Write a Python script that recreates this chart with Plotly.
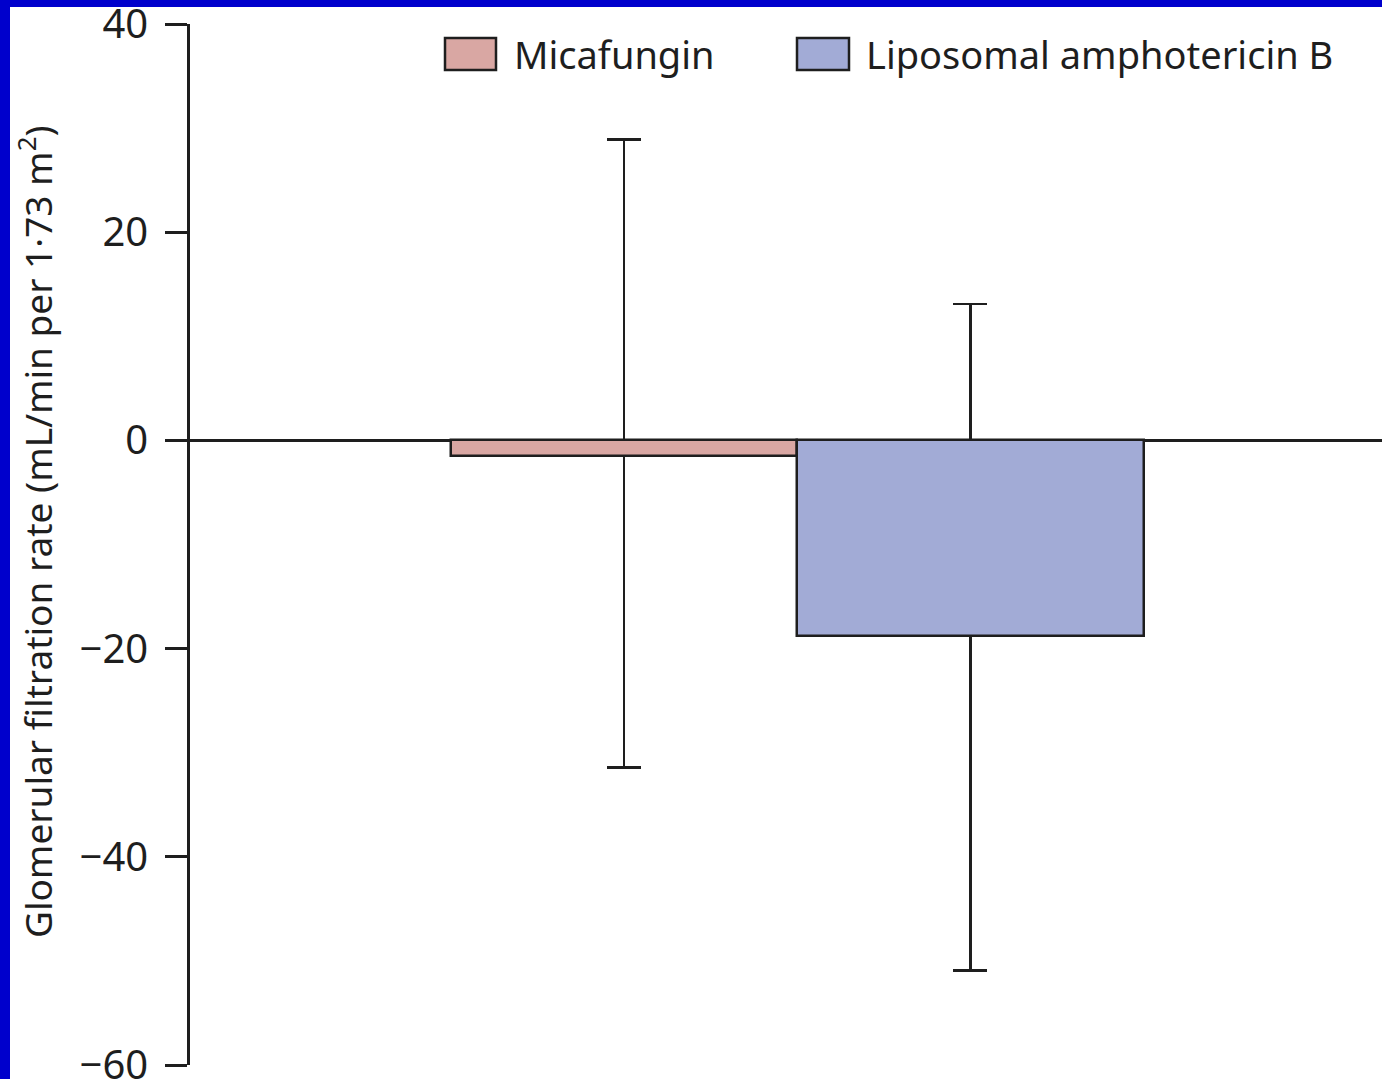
import plotly.graph_objects as go

groups = ["Micafungin", "Liposomal amphotericin B"]
means = [-1.5, -18.8]
err_plus = [30.4, 31.9]
err_minus = [29.9, 32.1]
colors = ["#d9a7a3", "#a2abd6"]
yticks = [-60, -40, -20, 0, 20, 40]

W, H = 1382, 1079
ml, mr, mt, mb = 190, 0, 24, 14
pw, ph = W - ml - mr, H - mt - mb

def px_x(x):
    return (x - ml) / pw

def px_y(y):
    return (H - mb - y) / ph

FONT = "Noto Sans"
INK = "#1e1e1e"

fig = go.Figure()
# error bars first (drawn behind the bars)
for i, g in enumerate(groups):
    fig.add_trace(go.Bar(
        x=[i], y=[means[i]], width=1, name=g + " error",
        marker=dict(color="rgba(0,0,0,0)", line=dict(width=0)),
        error_y=dict(type="data", symmetric=False, array=[err_plus[i]],
                     arrayminus=[err_minus[i]], color=INK, thickness=2.5, width=17),
        showlegend=False, hoverinfo="skip",
    ))
for i, g in enumerate(groups):
    fig.add_trace(go.Bar(
        x=[i], y=[means[i]], width=1, name=g,
        marker=dict(color=colors[i], line=dict(color=INK, width=2.5)),
        showlegend=False,
    ))

shapes = []
annotations = []
# custom legend
leg = [(445, 496, 512), (797, 849, 864)]
for i, g in enumerate(groups):
    x0, x1, tx = leg[i]
    shapes.append(dict(type="rect", xref="paper", yref="paper",
                       x0=px_x(x0), x1=px_x(x1), y0=px_y(70), y1=px_y(38),
                       fillcolor=colors[i], line=dict(color=INK, width=2.5)))
    annotations.append(dict(text=g, xref="paper", yref="paper", x=px_x(tx), y=px_y(54),
                            xanchor="left", yanchor="middle", showarrow=False,
                            font=dict(family=FONT, size=38, color=INK)))
# y axis title
annotations.append(dict(text="Glomerular filtration rate (mL/min per 1·73 m<sup>2</sup>)",
                        xref="paper", yref="paper", x=px_x(35), y=px_y(532),
                        xanchor="center", yanchor="middle", textangle=-90, showarrow=False,
                        font=dict(family=FONT, size=37, color=INK)))
# blue frame
shapes.append(dict(type="rect", xref="paper", yref="paper", x0=px_x(0), x1=px_x(10),
                   y0=px_y(H), y1=px_y(0), fillcolor="#0000cc", line=dict(width=0), layer="above"))
shapes.append(dict(type="rect", xref="paper", yref="paper", x0=px_x(0), x1=px_x(W),
                   y0=px_y(7), y1=px_y(0), fillcolor="#0000cc", line=dict(width=0), layer="above"))

fig.update_layout(
    width=W, height=H,
    margin=dict(l=ml, r=mr, t=mt, b=mb, pad=0, autoexpand=False),
    paper_bgcolor="white", plot_bgcolor="white",
    shapes=shapes, annotations=annotations,
    bargap=0, barmode="overlay",
    xaxis=dict(range=[-1.2518, 2.1883], visible=False, fixedrange=True, automargin=False),
    yaxis=dict(range=[-60, 40], tickvals=yticks, ticks="outside", ticklen=22, tickwidth=2.5,
               tickcolor=INK, showline=True, linecolor=INK, linewidth=2.5, automargin=False,
               showgrid=False, zeroline=True, zerolinecolor=INK, zerolinewidth=2.5,
               tickfont=dict(family=FONT, size=40, color=INK), ticklabelstandoff=9,
               ticklabeloverflow="allow"),
)

fig.write_html("out.html")
